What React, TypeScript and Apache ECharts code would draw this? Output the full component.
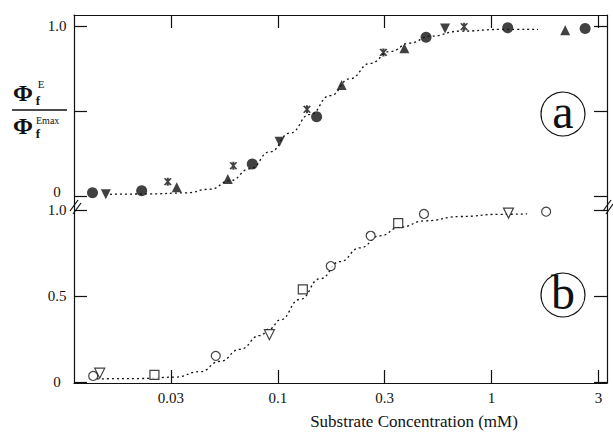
import React, { useEffect, useRef } from "react";
import * as echarts from "echarts";

// X axis: substrate concentration (mM), plotted on log10 scale
const xTickLabels = ["0.03", "0.1", "0.3", "1", "3"];
const xTickLog = [-1.5, -1, -0.5, 0, 0.5];

// Panel (a) – filled symbols
const aCircleC = [0.0136, 0.0231, 0.076, 0.152, 0.494, 1.19, 2.74];
const aCircleV = [0.019, 0.031, 0.188, 0.466, 0.934, 0.99, 0.986];
const aDownC = [0.0157, 0.102, 0.606];
const aDownV = [0.01, 0.319, 0.986];
const aUpC = [0.0337, 0.0584, 0.199, 0.391, 2.21];
const aUpV = [0.051, 0.1, 0.653, 0.869, 0.976];
const aStarC = [0.0306, 0.062, 0.137, 0.312, 0.744];
const aStarV = [0.084, 0.178, 0.51, 0.845, 0.996];
// dotted fit curve (a)
const aFitC = [0.01643, 0.02527, 0.03684, 0.04824, 0.05982, 0.07421, 0.09204, 0.1141, 0.1416, 0.1756, 0.2179, 0.2702, 0.3351, 0.4157, 0.5158, 0.7124, 1.096, 1.65];
const aFitV = [0.01, 0.012, 0.018, 0.04, 0.09, 0.16, 0.26, 0.37, 0.48, 0.59, 0.69, 0.78, 0.85, 0.9, 0.94, 0.97, 0.98, 0.98];

// Panel (b) – open symbols
const bCircleC = [0.0137, 0.0513, 0.177, 0.272, 0.483, 1.8];
const bCircleV = [0.035, 0.152, 0.674, 0.85, 0.977, 0.99];
const bDownC = [0.0147, 0.0914, 1.2];
const bDownV = [0.051, 0.275, 0.982];
const bSquareC = [0.0265, 0.131, 0.366];
const bSquareV = [0.041, 0.538, 0.924];
// dotted fit curve (b)
const bFitC = [0.01428, 0.0227, 0.03307, 0.0433, 0.05372, 0.06664, 0.08265, 0.09204, 0.1025, 0.1271, 0.1577, 0.1956, 0.2426, 0.3009, 0.3733, 0.4887, 0.7124, 1.096, 1.466];
const bFitV = [0.018, 0.02, 0.028, 0.06, 0.12, 0.19, 0.27, 0.31, 0.36, 0.48, 0.6, 0.7, 0.78, 0.85, 0.9, 0.937, 0.962, 0.975, 0.977];

const yTicks = [0, 0.5, 1];
const yLabelsTop = [0, 1];
const yLabelsBottom = [0, 0.5, 1];

const INK = "#111";
const FONT = "Liberation Serif";
const STAR =
  "path://M8.4 0L11.6 0L11.6 20L8.4 20Z M6.39 0.54L16.39 17.86L13.61 19.46L3.61 2.14Z M16.39 2.14L6.39 19.46L3.61 17.86L13.61 0.54Z";

const pts = (c: number[], v: number[]) => c.map((x, i) => [Math.log10(x), v[i]]);

const X_MIN = -1.953;
const X_MAX = 0.54;

function App() {
  const ref = useRef<HTMLDivElement>(null);
  useEffect(() => {
    if (!ref.current) return;
    const chart = echarts.init(ref.current, null, { renderer: "svg" });
    const line = { color: INK, width: 1.2 };
    const xFmt = (v: number) => {
      let best = 0;
      xTickLog.forEach((t, i) => {
        if (Math.abs(t - v) < Math.abs(xTickLog[best] - v)) best = i;
      });
      return xTickLabels[best];
    };
    const yText = (v: number) => (Math.abs(v) < 1e-9 ? "0" : v.toFixed(1));
    const labelRich = {
      n: { fontFamily: FONT, fontSize: 15, color: INK, lineHeight: 14 },
      up: { fontFamily: FONT, fontSize: 15, color: INK, lineHeight: 14, padding: [0, 0, 7, 0] },
    };
    const yAxisBase = (grid: number, pos: string, min: number, max: number, labels: number[] | null) => ({
      type: "value",
      gridIndex: grid,
      position: pos,
      min,
      max,
      axisLine: { show: true, onZero: false, lineStyle: line },
      axisTick: { show: true, inside: true, length: 13, customValues: yTicks, lineStyle: line },
      axisLabel: labels
        ? {
            show: true,
            customValues: labels,
            formatter: (v: number) =>
              grid === 0 && Math.abs(v) < 1e-9 ? `{up|${yText(v)}}` : `{n|${yText(v)}}`,
            rich: labelRich,
            fontFamily: FONT,
            fontSize: 15,
            color: INK,
            align: "center",
            margin: 17,
          }
        : { show: false },
      splitLine: { show: false },
    });
    const scatter = (
      name: string,
      x: number, y: number,
      data: number[][],
      symbol: string,
      size: number,
      filled: boolean,
      rotate = 0
    ) => ({
      type: "scatter",
      name,
      xAxisIndex: x,
      yAxisIndex: y,
      data,
      symbol,
      symbolSize: size,
      symbolRotate: rotate,
      z: 5,
      itemStyle: filled
        ? { color: INK }
        : { color: "#fff", borderColor: INK, borderWidth: 1.2 },
    });
    const fit = (x: number, y: number, data: number[][]) => ({
      type: "line",
      xAxisIndex: x,
      yAxisIndex: y,
      data,
      symbol: "none",
      smooth: 0.5,
      smoothMonotone: "x",
      z: 2,
      lineStyle: { color: INK, width: 1.3, type: [2, 3] },
    });

    chart.setOption({
      animation: false,
      backgroundColor: "#fff",
      grid: [
        { left: 74, right: 6, top: 15, height: 190 },
        { left: 74, right: 6, top: 205, height: 178 },
      ],
      xAxis: [
        {
          type: "value",
          gridIndex: 0,
          position: "top",
          min: X_MIN,
          max: X_MAX,
          axisLine: { show: true, onZero: false, lineStyle: line },
          axisTick: { show: true, inside: true, length: 13, customValues: xTickLog, lineStyle: line },
          axisLabel: { show: false },
          splitLine: { show: false },
        },
        {
          type: "value",
          gridIndex: 1,
          position: "bottom",
          min: X_MIN,
          max: X_MAX,
          axisLine: { show: true, onZero: false, lineStyle: line },
          axisTick: { show: true, inside: true, length: 13, customValues: xTickLog, lineStyle: line },
          axisLabel: {
            show: true,
            customValues: xTickLog,
            formatter: xFmt,
            fontFamily: FONT,
            fontSize: 15,
            color: INK,
            margin: 7,
          },
          splitLine: { show: false },
        },
      ],
      yAxis: [
        yAxisBase(0, "left", -0.053, 1.065, yLabelsTop),
        yAxisBase(0, "right", -0.053, 1.065, null),
        yAxisBase(1, "left", -0.006, 1.029, yLabelsBottom),
        yAxisBase(1, "right", -0.006, 1.029, null),
      ],
      series: [
        fit(0, 0, pts(aFitC, aFitV)),
        scatter("a-circle", 0, 0, pts(aCircleC, aCircleV), "circle", 11, true),
        scatter("a-down", 0, 0, pts(aDownC, aDownV), "triangle", 10, true, 180),
        scatter("a-up", 0, 0, pts(aUpC, aUpV), "triangle", 10, true),
        scatter("a-star", 0, 0, pts(aStarC, aStarV), STAR, 8, true),
        fit(1, 2, pts(bFitC, bFitV)),
        scatter("b-circle", 1, 2, pts(bCircleC, bCircleV), "circle", 9, false),
        scatter("b-down", 1, 2, pts(bDownC, bDownV), "triangle", 10, false, 180),
        scatter("b-square", 1, 2, pts(bSquareC, bSquareV), "rect", 9, false),
      ],
      graphic: [
        // y-axis label: Φf^E / Φf^Emax
        { type: "text", x: 23, y: 93, style: { text: "Φ", fontFamily: FONT, fontWeight: "bold", fontSize: 24, fill: INK, align: "center", verticalAlign: "middle" } },
        { type: "text", x: 38, y: 100, style: { text: "f", fontFamily: FONT, fontWeight: "bold", fontSize: 13, fill: INK, align: "center", verticalAlign: "middle" } },
        { type: "text", x: 41, y: 84, style: { text: "E", fontFamily: FONT, fontSize: 11, fill: INK, align: "center", verticalAlign: "middle" } },
        { type: "line", shape: { x1: 12, y1: 110, x2: 67, y2: 110 }, style: { stroke: INK, lineWidth: 1.5 } },
        { type: "text", x: 23, y: 126, style: { text: "Φ", fontFamily: FONT, fontWeight: "bold", fontSize: 24, fill: INK, align: "center", verticalAlign: "middle" } },
        { type: "text", x: 38, y: 133, style: { text: "f", fontFamily: FONT, fontWeight: "bold", fontSize: 13, fill: INK, align: "center", verticalAlign: "middle" } },
        { type: "text", x: 36, y: 120, style: { text: "Emax", fontFamily: FONT, fontSize: 10, fill: INK, align: "left", verticalAlign: "middle" } },
        // panel tags
        { type: "circle", shape: { cx: 563, cy: 114, r: 22 }, style: { fill: "none", stroke: INK, lineWidth: 1.2 } },
        { type: "text", x: 563, y: 111, style: { text: "a", fontFamily: FONT, fontSize: 48, fill: INK, align: "center", verticalAlign: "middle" } },
        { type: "circle", shape: { cx: 563, cy: 295, r: 22 }, style: { fill: "none", stroke: INK, lineWidth: 1.2 } },
        { type: "text", x: 563, y: 292, style: { text: "b", fontFamily: FONT, fontSize: 48, fill: INK, align: "center", verticalAlign: "middle" } },
        // axis break marks
        { type: "line", shape: { x1: 70, y1: 211, x2: 78, y2: 200 }, style: { stroke: INK, lineWidth: 1.2 } },
        { type: "line", shape: { x1: 73, y1: 214, x2: 81, y2: 203 }, style: { stroke: INK, lineWidth: 1.2 } },
        { type: "line", shape: { x1: 603, y1: 211, x2: 611, y2: 200 }, style: { stroke: INK, lineWidth: 1.2 } },
        { type: "line", shape: { x1: 606, y1: 214, x2: 613, y2: 204 }, style: { stroke: INK, lineWidth: 1.2 } },
        // x-axis title
        { type: "text", x: 414, y: 421, style: { text: "Substrate Concentration (mM)", fontFamily: FONT, fontSize: 17, fill: INK, align: "center", verticalAlign: "middle" } },
      ],
    });
    return () => chart.dispose();
  }, []);
  return (
    <div
      ref={ref}
      style={{ position: "fixed", left: 0, top: 0, width: 613, height: 432, background: "#fff" }}
    />
  );
}

export default App;
